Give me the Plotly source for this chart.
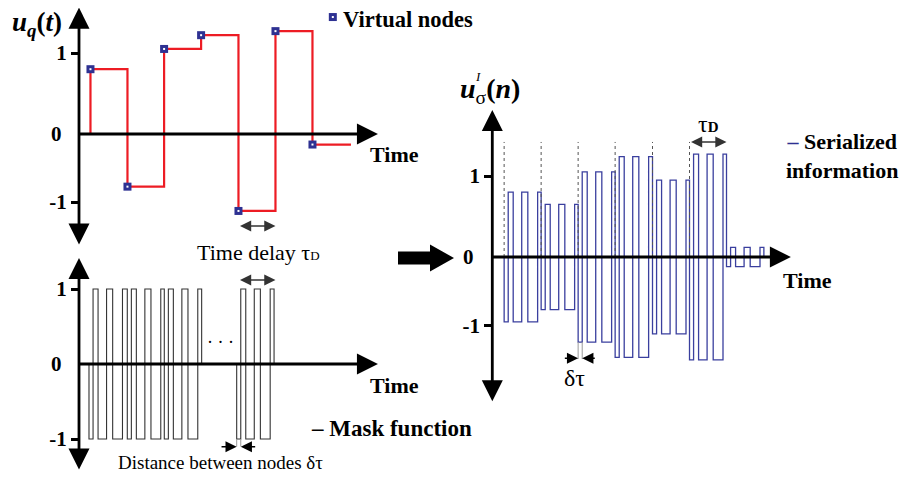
import plotly.graph_objects as go

W, H = 909, 477
OFF = 8  # the page puts the figure 8 px in from the top-left corner
FONT = "Liberation Serif, Times New Roman, serif"
NAVY = "#2e3192"
BLUE = "#3a3f9e"
RED = "#ed1c24"

# virtual node states u_q(t); time in units of tau_D
NODE_T = [0.31, 1.31, 2.30, 3.30, 4.31, 5.31, 6.31]
NODE_U = [0.80, -0.65, 1.05, 1.22, -0.95, 1.27, -0.13]
NODE_END = 7.35

# mask function: switch offsets inside one tau_D and the sign of each slot
MASK_OFFSETS = [0, 0.11, 0.245, 0.475, 0.64, 0.905]
MASK_SIGNS = [-1, 1, -1, 1, -1, 1]
MASK_LEN = 1.01
MASK_BLOCKS = [[0.27, 1.305, 2.305], [4.262]]

# serialized information: start of each tau_D group and its amplitude
SER_START = [0.32, 1.32, 2.32, 3.32, 4.33, 5.33, 6.33]
SER_AMP = [0.80, 0.65, 1.05, 1.24, 0.95, 1.27, 0.12]

TICK_LABELS = ["1", "0", "-1"]


def px(x):
    return (x - OFF) / W


def py(y):
    return 1 - (y - OFF) / H


def step_xy(starts, amps):
    xs, ys = [starts[0]], [0]
    for s, a in zip(starts, amps):
        for off, sign in zip(MASK_OFFSETS, MASK_SIGNS):
            xs.append(s + off)
            ys.append(sign * a)
    xs.append(starts[-1] + MASK_LEN)
    ys.append(0)
    return xs, ys


fig = go.Figure()

# panel 1: node states
fig.add_trace(go.Scatter(
    x=[NODE_T[0]] + NODE_T + [NODE_END], y=[0] + NODE_U + [NODE_U[-1]],
    mode="lines", line=dict(color=RED, width=2.2, shape="hv"),
    xaxis="x", yaxis="y", hoverinfo="skip"))
fig.add_trace(go.Scatter(
    x=NODE_T + [6.86], y=NODE_U + [1.444], mode="markers",
    marker=dict(symbol="square", size=8, color=NAVY),
    xaxis="x", yaxis="y", hoverinfo="skip"))
fig.add_trace(go.Scatter(
    x=NODE_T + [6.86], y=NODE_U + [1.444], mode="markers",
    marker=dict(symbol="square", size=2, color="white"),
    xaxis="x", yaxis="y", hoverinfo="skip"))

# panel 2: mask function
for block in MASK_BLOCKS:
    mx, my = step_xy(block, [1] * len(block))
    fig.add_trace(go.Scatter(
        x=mx, y=my, mode="lines", line=dict(color="#333333", width=1.1, shape="hv"),
        xaxis="x2", yaxis="y2", hoverinfo="skip"))
g0 = MASK_BLOCKS[1][0]
fig.add_trace(go.Scatter(
    x=[g0, g0, None, g0 + MASK_OFFSETS[1], g0 + MASK_OFFSETS[1]],
    y=[-1, -1.1, None, -1, -1.1], mode="lines",
    line=dict(color="#999999", width=1), xaxis="x2", yaxis="y2", hoverinfo="skip"))

# panel 3: serialized information
sx, sy = step_xy(SER_START, SER_AMP)
fig.add_trace(go.Scatter(
    x=sx, y=sy, mode="lines", line=dict(color=BLUE, width=1.3, shape="hv"),
    xaxis="x3", yaxis="y3", hoverinfo="skip"))
dx, dy = [], []
for s in SER_START[:6]:
    dx += [s, s, None]
    dy += [0, 1.42, None]
fig.add_trace(go.Scatter(
    x=dx, y=dy, mode="lines", line=dict(color="#555555", width=1, dash="dot"),
    xaxis="x3", yaxis="y3", hoverinfo="skip"))
s2 = SER_START[2]
fig.add_trace(go.Scatter(
    x=[s2, s2, None, s2 + MASK_OFFSETS[1], s2 + MASK_OFFSETS[1]],
    y=[-SER_AMP[2], -1.26, None, -SER_AMP[2], -1.26], mode="lines",
    line=dict(color="#999999", width=1), xaxis="x3", yaxis="y3", hoverinfo="skip"))

tickfont = dict(family=FONT, size=21, color="black", weight="bold")
hidden_x = dict(showgrid=False, zeroline=False, showline=False, showticklabels=False, ticks="")


def yax(domain, rng, tickvals, ticktext, anchor):
    return dict(domain=domain, range=rng, anchor=anchor, showgrid=False, zeroline=False,
                showline=False, tickvals=tickvals, ticktext=ticktext, ticks="outside",
                ticklen=7, tickwidth=2.5, tickcolor="black", tickfont=tickfont)


fig.update_layout(
    width=W, height=H, margin=dict(l=0, r=0, t=0, b=0),
    paper_bgcolor="white", plot_bgcolor="rgba(0,0,0,0)", showlegend=False,
    xaxis=dict(domain=[px(79), px(420)], range=[0, 341 / 37], anchor="y", **hidden_x),
    yaxis=yax([py(250), py(8)], [-116 / 81, 126 / 81], [1, -0.84],
              [TICK_LABELS[0], TICK_LABELS[2]], "x"),
    xaxis2=dict(domain=[px(79), px(420)], range=[0, 341 / 37], anchor="y2", **hidden_x),
    yaxis2=yax([py(477), py(252)], [-113 / 75, 112 / 75], [1, -1],
               [TICK_LABELS[0], TICK_LABELS[2]], "x2"),
    xaxis3=dict(domain=[px(492.3), px(909)], range=[0, 416.7 / 37], anchor="y3", **hidden_x),
    yaxis3=yax([py(420), py(95)], [-163 / 81, 162 / 81], [1, -0.85],
               [TICK_LABELS[0], TICK_LABELS[2]], "x3"),
)


def arrow(ax_, ay_, x0, y0, x1, y1, width, size, both=False, color="black", head=2):
    return dict(xref=ax_, yref=ay_, axref=ax_, ayref=ay_, x=x1, y=y1, ax=x0, ay=y0,
                text="", showarrow=True, arrowhead=head, startarrowhead=head,
                arrowside="end+start" if both else "end", arrowwidth=width,
                arrowsize=size, startarrowsize=size, arrowcolor=color,
                standoff=0, startstandoff=0)


ann = [
    # axes
    arrow("x", "y", 0, -1.383, 0, 1.56, 2.8, 1.5, both=True),
    arrow("x", "y", -0.05, 0, 8.08, 0, 2.8, 1.5),
    arrow("x2", "y2", 0, -1.427, 0, 1.413, 2.8, 1.5, both=True),
    arrow("x2", "y2", -0.05, 0, 8.08, 0, 2.8, 1.5),
    arrow("x3", "y3", 0, -1.80, 0, 1.815, 2.8, 1.5, both=True),
    arrow("x3", "y3", -0.05, 0, 8.07, 0, 2.8, 1.5),
    # tau_D and delta tau markers
    arrow("x", "y", NODE_T[4], -1.136, NODE_T[5], -1.136, 1.4, 1.6, both=True, color="#333333"),
    arrow("x2", "y2", NODE_T[4], 1.12, NODE_T[5], 1.12, 1.4, 1.6, both=True, color="#333333"),
    arrow("x2", "y2", g0 - 0.45, -1.103, g0, -1.103, 1.4, 1.6),
    arrow("x2", "y2", g0 + MASK_OFFSETS[1] + 0.43, -1.103, g0 + MASK_OFFSETS[1], -1.103, 1.4, 1.6),
    arrow("x3", "y3", SER_START[5], 1.42, SER_START[6], 1.42, 1.4, 1.6, both=True, color="#333333"),
    arrow("x3", "y3", s2 - 0.4, -1.25, s2, -1.25, 1.4, 1.6),
    arrow("x3", "y3", s2 + MASK_OFFSETS[1] + 0.38, -1.25, s2 + MASK_OFFSETS[1], -1.25, 1.4, 1.6),
]


def text(x, y, t, size=21, xanchor="center", bold=False, align="center"):
    return dict(xref="paper", yref="paper", x=px(x), y=py(y), text=t, showarrow=False,
                xanchor=xanchor, yanchor="middle", align=align,
                font=dict(family=FONT, size=size, color="black",
                          weight="bold" if bold else "normal"))


ann += [
    dict(xref="x", yref="y", x=0, y=0, xshift=-15, xanchor="right", yanchor="middle",
         text=TICK_LABELS[1], showarrow=False, font=tickfont),
    dict(xref="x2", yref="y2", x=0, y=0, xshift=-15, xanchor="right", yanchor="middle",
         text=TICK_LABELS[1], showarrow=False, font=tickfont),
    dict(xref="x3", yref="y3", x=0, y=0, xshift=-16, xanchor="right", yanchor="middle",
         text=TICK_LABELS[1], showarrow=False, font=tickfont),
    text(37, 24, "<b><i>u</i></b><sub><b><i>q</i></b></sub><b>(<i>t</i>)</b>", size=27),
    text(490, 90, "<b><i>u</i></b><sub>σ</sub><b>(<i>n</i>)</b>", size=28),
    text(478, 77, "<i>I</i>", size=13),
    text(341, 20, "Virtual nodes", size=22.5, xanchor="left", bold=True),
    text(394, 155, "Time", size=22, bold=True),
    text(394, 385, "Time", size=22, bold=True),
    text(807, 280, "Time", size=22, bold=True),
    text(258, 253, "Time delay τ<span style='font-size:13px'>D</span>", size=22),
    text(220, 342, "· · ·", size=18),
    text(220, 462, "Distance between nodes δτ", size=19),
    text(309, 428, "– Mask function", size=23, xanchor="left", bold=True),
    text(842, 156, "<span style='color:#2e3192'>–</span> Serialized<br>information",
         size=22, bold=True),
    text(708, 124, "τ<b><span style='font-size:15px'>D</span></b>", size=24),
    text(574, 378, "δτ", size=24),
]

fig.update_layout(annotations=ann)

# thick arrow between the two halves
big = [(398, 251.5), (430, 251.5), (430, 244.5), (454, 258), (430, 271.5), (430, 264.5), (398, 264.5)]
path = "M " + " L ".join(f"{px(a)},{py(b)}" for a, b in big) + " Z"
fig.add_shape(type="path", path=path, xref="paper", yref="paper",
              fillcolor="black", line=dict(color="black", width=0))

fig.write_html("out.html")
